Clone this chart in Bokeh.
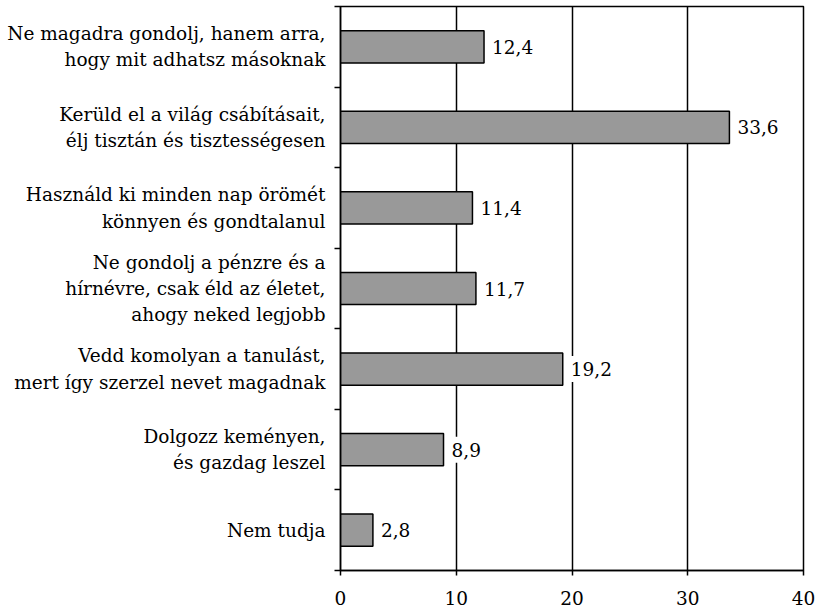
from bokeh.plotting import figure
from bokeh.models import FixedTicker, ColumnDataSource, Range1d
from bokeh.core.properties import value
from bokeh.embed import file_html
from bokeh.resources import INLINE

categories = [
    "Ne magadra gondolj, hanem arra,\nhogy mit adhatsz másoknak",
    "Kerüld el a világ csábításait,\nélj tisztán és tisztességesen",
    "Használd ki minden nap örömét\nkönnyen és gondtalanul",
    "Ne gondolj a pénzre és a\nhírnévre, csak éld az életet,\nahogy neked legjobb",
    "Vedd komolyan a tanulást,\nmert így szerzel nevet magadnak",
    "Dolgozz keményen,\nés gazdag leszel",
    "Nem tudja",
]
values = [12.4, 33.6, 11.4, 11.7, 19.2, 8.9, 2.8]
value_labels = ["12,4", "33,6", "11,4", "11,7", "19,2", "8,9", "2,8"]
x_ticks = [0, 10, 20, 30, 40]

FONT = "DejaVu Serif"
FS = "18.5px"

n = len(categories)
ypos = [n - 1 - i for i in range(n)]

src = ColumnDataSource(dict(y=ypos, v=values, lab=value_labels))

p = figure(width=816, height=610, output_backend="svg", toolbar_location=None,
           x_range=Range1d(0, 40), y_range=Range1d(-0.5, n - 0.5),
           min_border_left=340, min_border_right=13, min_border_top=6, min_border_bottom=40)

p.hbar(y="y", left=0, right="v", height=0.4, source=src,
       fill_color="#999999", line_color="black", line_width=1.5)

p.text(x="v", y="y", text="lab", source=src, x_offset=2, text_baseline="middle",
       text_align="left", text_font=value(FONT), text_font_size=FS, text_color="black",
       background_fill_color="white", padding=6)

p.outline_line_color = "black"
p.outline_line_width = 1.5
p.ygrid.visible = False
p.xgrid.ticker = FixedTicker(ticks=x_ticks)
p.xgrid.grid_line_color = "black"
p.xgrid.grid_line_width = 1.5
p.xgrid.grid_line_alpha = 1.0

# x axis
p.xaxis.ticker = FixedTicker(ticks=x_ticks)
p.xaxis.axis_line_color = "black"
p.xaxis.axis_line_width = 1.5
p.xaxis.major_tick_line_color = "black"
p.xaxis.major_tick_line_width = 1.5
p.xaxis.major_tick_out = 5
p.xaxis.major_tick_in = 0
p.xaxis.minor_tick_line_color = None
p.xaxis.major_label_text_font = FONT
p.xaxis.major_label_text_font_size = FS
p.xaxis.major_label_text_color = "black"
p.xaxis.major_label_standoff = 15

# y axis
p.yaxis.ticker = FixedTicker(ticks=ypos, minor_ticks=[i - 0.5 for i in range(n + 1)])
p.yaxis.major_label_overrides = {ypos[i]: categories[i] for i in range(n)}
p.yaxis.axis_line_color = "black"
p.yaxis.axis_line_width = 1.5
p.yaxis.major_tick_out = 0
p.yaxis.major_tick_in = 0
p.yaxis.minor_tick_line_color = "black"
p.yaxis.minor_tick_line_width = 1.5
p.yaxis.minor_tick_out = 6
p.yaxis.minor_tick_in = 0
p.yaxis.major_label_text_font = FONT
p.yaxis.major_label_text_font_size = FS
p.yaxis.major_label_text_color = "black"
p.yaxis.major_label_text_line_height = 1.25
p.yaxis.major_label_standoff = 9

open("out.html", "w").write(file_html(p, INLINE))
